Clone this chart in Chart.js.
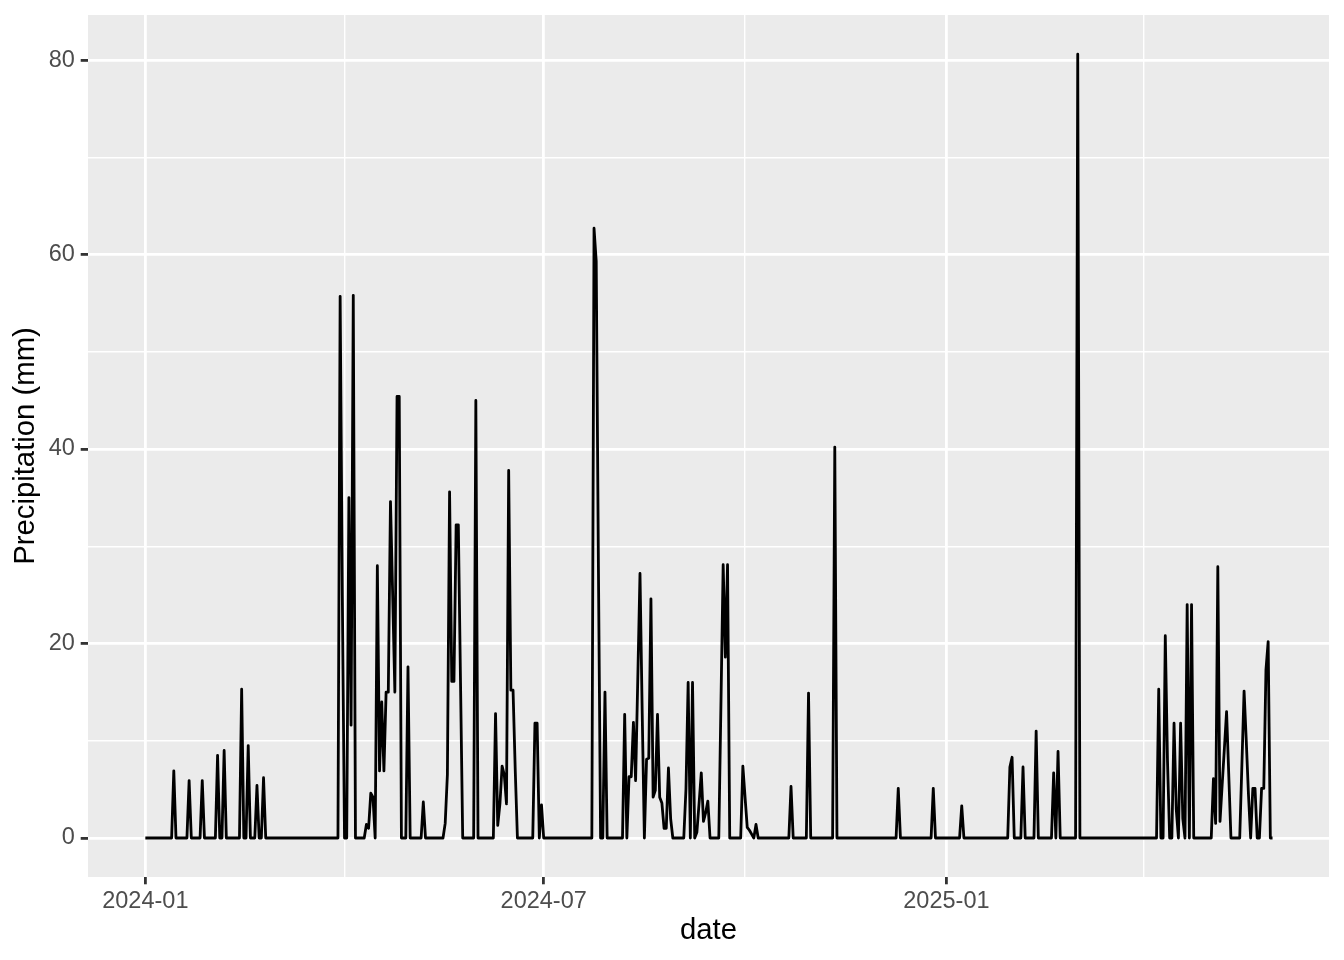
<!DOCTYPE html>
<html>
<head>
<meta charset="utf-8">
<title>Precipitation</title>
<script src="https://cdn.jsdelivr.net/npm/chart.js@4.4.1/dist/chart.umd.min.js"></script>
<style>
  html, body { margin: 0; padding: 0; background: #ffffff; }
  canvas { display: block; }
</style>
</head>
<body>
<canvas id="chart" width="1344" height="960"></canvas>
<script>
// daily precipitation in mm, one array per month
const jan24 = [0,0,0,0,0,0,0,0,0,0, 0,0,0,6.9,0,0,0,0,0,0, 5.9,0,0,0,0,0,5.9,0,0,0, 0];
const feb24 = [0,0,8.5,0,0,9.0,0,0,0,0, 0,0,0,15.3,0,0,9.5,0,0,0, 5.4,0,0,6.2,0,0,0,0,0];
const mar24 = [0,0,0,0,0,0,0,0,0,0, 0,0,0,0,0,0,0,0,0,0, 0,0,0,0,0,0,0,0,0,55.7, 25];
const apr24 = [0,0,35,11.6,55.8,0,0,0,0,0, 1.4,1.0,4.6,4.2,0,28,6.9,14,6.9,15, 15,34.6,25,15,45.4,45.4,0,0,0,17.6];
const may24 = [0,0,0,0,0,0,3.7,0,0,0, 0,0,0,0,0,0,1.5,6.5,35.6,16.1, 16.1,32.2,32.2,16,0,0,0,0,0,0, 45];
const jun24 = [0,0,0,0,0,0,0,0,12.8,1.3, 3.5,7.4,6.5,3.5,37.8,15.2,15.2,7,0,0, 0,0,0,0,0,0,11.8,11.8,0,3.4];
const jul24 = [0,0,0,0,0,0,0,0,0,0, 0,0,0,0,0,0,0,0,0,0, 0,0,0,62.7,59.3,28,0,0,15,0, 0];
const aug24 = [0,0,0,0,0,0,12.7,0,6.3,6.3, 11.9,5.9,16.5,27.2,13,0,8.1,8.2,24.6,4.2, 4.9,12.7,4.2,3.6,1.0,1.0,7.2,2.0,0,0, 0];
const sep24 = [0,0,0,5,16,0,16,0,0.6,3.6, 6.7,1.7,2.6,3.8,0,0,0,0,0,14, 28.1,18.6,28.1,0,0,0,0,0,0,7.4];
const oct24 = [4.2,1.1,0.8,0.4,0,1.4,0,0,0,0, 0,0,0,0,0,0,0,0,0,0, 0,5.3,0,0,0,0,0,0,0,14.9, 0];
const nov24 = [0,0,0,0,0,0,0,0,0,0, 40.2,0,0,0,0,0,0,0,0,0, 0,0,0,0,0,0,0,0,0,0];
const dec24 = [0,0,0,0,0,0,0,0,0,5.1, 0,0,0,0,0,0,0,0,0,0, 0,0,0,0,0,5.1,0,0,0,0, 0];
const jan25 = [0,0,0,0,0,0,0,3.3,0,0, 0,0,0,0,0,0,0,0,0,0, 0,0,0,0,0,0,0,0,0,7.3, 8.3];
const feb25 = [0,0,0,0,7.3,0,0,0,0,0, 11.0,0,0,0,0,0,0,0,6.7,0, 8.9,0,0,0,0,0,0,0];
const mar25 = [0,80.6,0,0,0,0,0,0,0,0, 0,0,0,0,0,0,0,0,0,0, 0,0,0,0,0,0,0,0,0,0, 0];
const apr25 = [0,0,0,0,0,0,0,15.3,0,0, 20.8,8,0,0,11.8,3,0,11.8,2,0, 24,0,24,0,0,0,0,0,0,0];
const may25 = [0,0,6.1,1.5,27.9,1.7,5.5,9.2,13.0,6.5, 0,0,0,0,0,7.5,15.1,10,4.5,0, 5.1,5.1,0,0,5.1,5.1,17.3,20.2,0,0];

// day 0 = 2024-01-01
const xTickDays = [0, 182, 366];
const xTickLabels = ['2024-01', '2024-07', '2025-01'];
const xMinorDays = [91, 274, 456];
const yTicks = [0, 20, 40, 60, 80];
const yMinor = [10, 30, 50, 70];

const precip = [].concat(jan24, feb24, mar24, apr24, may24, jun24, jul24, aug24,
    sep24, oct24, nov24, dec24, jan25, feb25, mar25, apr25, may25);
const points = precip.map((v, i) => ({ x: i, y: v }));

const FONT = 'Liberation Sans, Arial, Helvetica, sans-serif';

// grey panel like ggplot
const panelBg = {
    id: 'panelBg',
    beforeDraw(chart) {
        const { ctx, chartArea: a } = chart;
        ctx.save();
        ctx.fillStyle = '#EBEBEB';
        ctx.fillRect(a.left, a.top, a.right - a.left, a.bottom - a.top);
        ctx.restore();
    }
};

function gridOpts(majors) {
    const isMajor = c => c.tick && majors.includes(c.tick.value);
    return {
        color: '#FFFFFF',
        lineWidth: c => isMajor(c) ? 2.8 : 1.4,
        drawTicks: true,
        tickLength: 7.3,
        tickWidth: 2.8,
        tickColor: c => isMajor(c) ? '#333333' : 'rgba(0,0,0,0)'
    };
}

new Chart(document.getElementById('chart'), {
    type: 'line',
    data: {
        datasets: [{
            data: points,
            borderColor: '#000000',
            borderWidth: 2.8,
            borderJoinStyle: 'round',
            pointRadius: 0,
            tension: 0,
            fill: false
        }]
    },
    plugins: [panelBg],
    options: {
        responsive: false,
        animation: false,
        devicePixelRatio: 1,
        layout: { padding: { top: 15, right: 15, left: 0, bottom: 0 } },
        plugins: {
            legend: { display: false },
            tooltip: { enabled: false }
        },
        scales: {
            x: {
                type: 'linear',
                min: -26.2,
                max: 540.8,
                afterBuildTicks: s => {
                    s.ticks = xTickDays.concat(xMinorDays).sort((a, b) => a - b).map(v => ({ value: v }));
                },
                afterFit: s => {
                    s.height = 83;
                    s.paddingLeft = 0;
                    s.paddingRight = 0;
                },
                grid: gridOpts(xTickDays),
                border: { display: false },
                ticks: {
                    autoSkip: false,
                    maxRotation: 0,
                    padding: 2.9,
                    color: '#4D4D4D',
                    font: { family: FONT, size: 23.5 },
                    callback: v => {
                        const i = xTickDays.indexOf(v);
                        return i >= 0 ? xTickLabels[i] : '';
                    }
                },
                title: {
                    display: true,
                    text: 'date',
                    color: '#000000',
                    font: { family: FONT, size: 29.3 },
                    padding: { top: 0, bottom: 11.7 }
                }
            },
            y: {
                type: 'linear',
                min: -4.01,
                max: 84.63,
                afterBuildTicks: s => {
                    s.ticks = yTicks.concat(yMinor).sort((a, b) => a - b).map(v => ({ value: v }));
                },
                afterFit: s => {
                    s.width = 88;
                    s.paddingTop = 0;
                    s.paddingBottom = 0;
                },
                grid: gridOpts(yTicks),
                border: { display: false },
                ticks: {
                    autoSkip: false,
                    padding: 5.9,
                    color: '#4D4D4D',
                    font: { family: FONT, size: 23.5 },
                    callback: v => yTicks.includes(v) ? String(v) : ''
                },
                title: {
                    display: true,
                    text: 'Precipitation (mm)',
                    color: '#000000',
                    font: { family: FONT, size: 29.3 },
                    padding: { top: 8.6, bottom: 0 }
                }
            }
        }
    }
});
</script>
</body>
</html>
